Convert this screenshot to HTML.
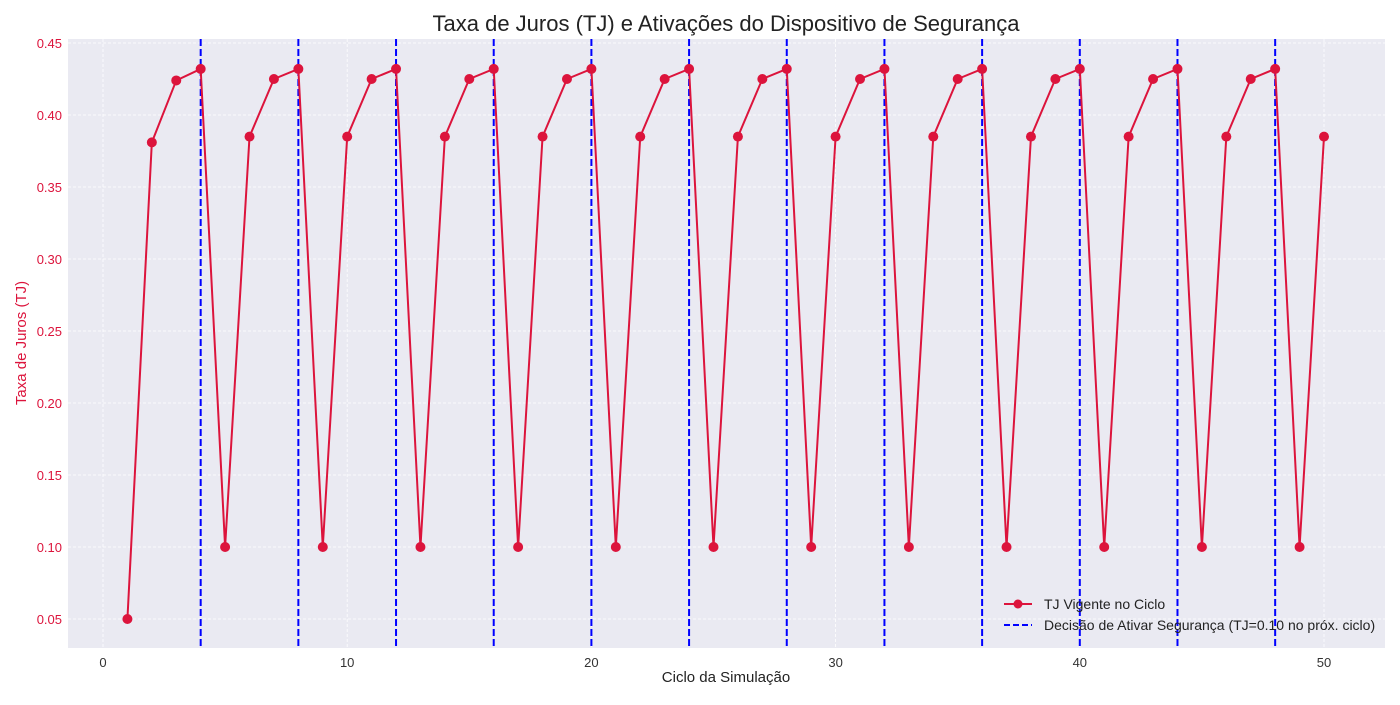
<!DOCTYPE html>
<html><head><meta charset="utf-8"><style>
body{margin:0;background:#fff;font-family:"Liberation Sans",sans-serif;}
</style></head><body>
<svg id="chart" width="1400" height="700" xmlns="http://www.w3.org/2000/svg" font-family="Liberation Sans, sans-serif">
<text x="726" y="31" text-anchor="middle" font-size="22" fill="#222">Taxa de Juros (TJ) e Ativações do Dispositivo de Segurança</text>
<rect x="68" y="39" width="1317" height="609" fill="#eaeaf2"/>
<g id="grid"></g><g id="vlines"></g><g id="series"></g><g id="ticks"></g>
<text x="726" y="682" text-anchor="middle" font-size="15" fill="#222">Ciclo da Simulação</text>
<text transform="translate(26,343) rotate(-90)" text-anchor="middle" font-size="15" fill="#dc143c">Taxa de Juros (TJ)</text>
<g>
<line x1="1004" y1="604" x2="1032" y2="604" stroke="#dc143c" stroke-width="2"/>
<circle cx="1018" cy="604" r="4.5" fill="#dc143c"/>
<text x="1044" y="609" font-size="14" fill="#222">TJ Vigente no Ciclo</text>
<line x1="1004" y1="625" x2="1032" y2="625" stroke="#0000ff" stroke-width="2" stroke-dasharray="6,3"/>
<text x="1044" y="630" font-size="14" fill="#222">Decisão de Ativar Segurança (TJ=0.10 no próx. ciclo)</text>
</g>
</svg>
<script>
const cycles=[];for(let i=1;i<=50;i++)cycles.push(i);
const tjValues=[0.05,0.381,0.424,0.432];
(function(){const pat=[0.10,0.385,0.425,0.432];for(let i=5;i<=50;i++)tjValues.push(pat[(i-5)%4]);})();
const activations=[4,8,12,16,20,24,28,32,36,40,44,48];
const xTicks=[0,10,20,30,40,50];
const yTicks=[0.05,0.10,0.15,0.20,0.25,0.30,0.35,0.40,0.45];
const NS="http://www.w3.org/2000/svg";
const X=v=>103+v*24.42, Y=v=>619-(v-0.05)/0.05*72;
function mk(t,a,p){const e=document.createElementNS(NS,t);for(const k in a)e.setAttribute(k,a[k]);p.appendChild(e);return e;}
const g=document.getElementById('grid'),tk=document.getElementById('ticks');
xTicks.forEach(v=>{const l=mk('line',{x1:X(v),x2:X(v),y1:39,y2:648,stroke:'#fff','stroke-dasharray':'3,2','stroke-width':0.8},g);


const t=mk('text',{x:X(v),y:667,'text-anchor':'middle','font-size':13,fill:'#333'},tk);t.textContent=v;

});
yTicks.forEach(v=>{const l=mk('line',{x1:68,x2:1385,y1:Y(v),y2:Y(v),stroke:'#fff','stroke-dasharray':'3,2','stroke-width':0.8},g);


const t=mk('text',{x:62,y:Y(v)+5,'text-anchor':'end','font-size':13,fill:'#dc143c'},tk);t.textContent=v.toFixed(2);

});
const vl=document.getElementById('vlines');
activations.forEach(v=>{const l=mk('line',{x1:X(v),x2:X(v),y1:39,y2:648,stroke:'#0000ff','stroke-width':2,'stroke-dasharray':'7,3'},vl);

});
const s=document.getElementById('series');
const p=mk('polyline',{points:cycles.map((c,i)=>X(c)+','+Y(tjValues[i])).join(' '),fill:'none',stroke:'#dc143c','stroke-width':2},s);


cycles.forEach((c,i)=>{const d=mk('circle',{cx:X(c),cy:Y(tjValues[i]),r:5,fill:'#dc143c'},s);

});
</script>
</body></html>
